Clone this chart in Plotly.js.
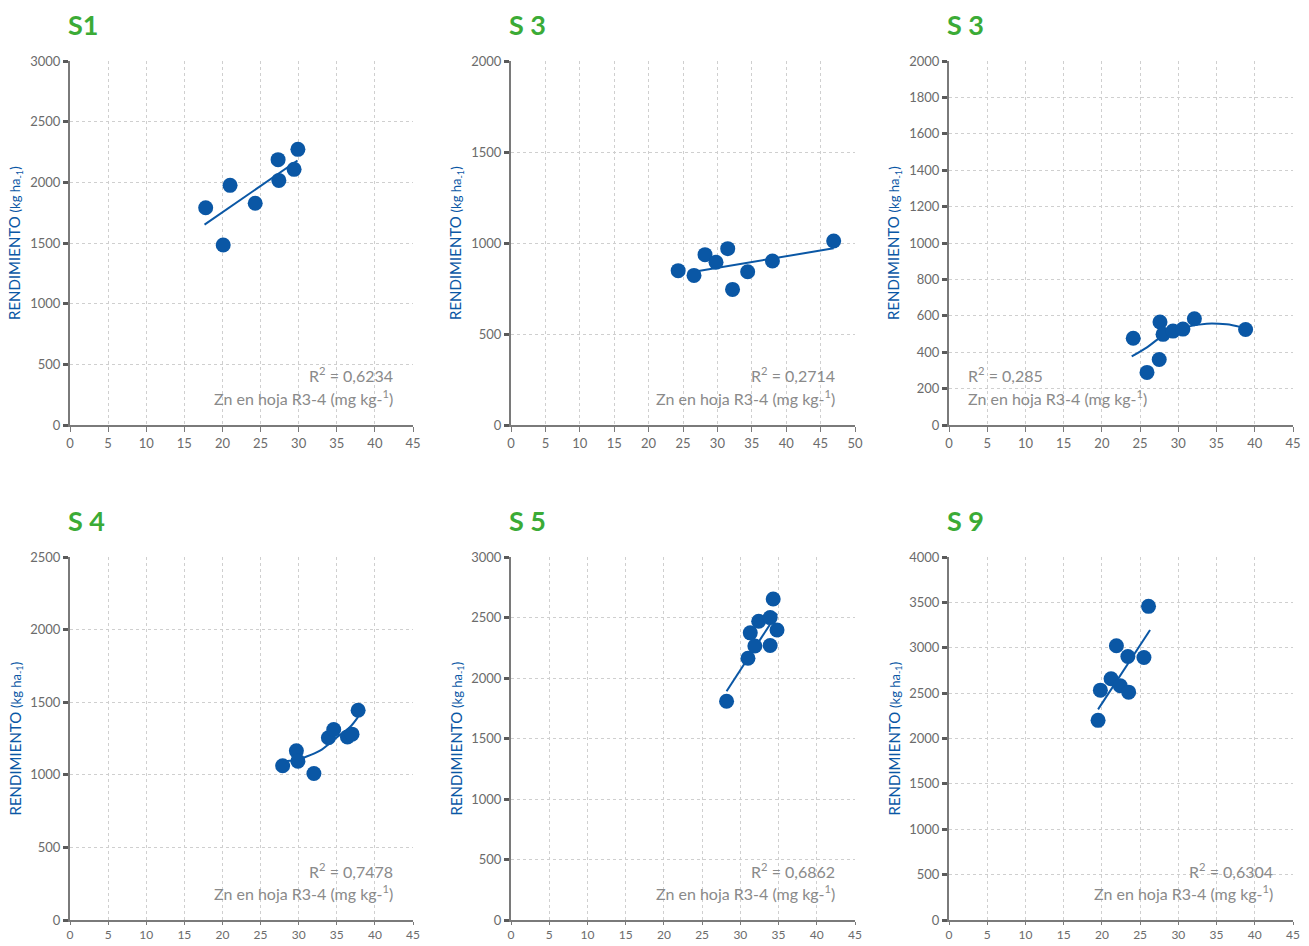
<!DOCTYPE html>
<html>
<head>
<meta charset="utf-8">
<script src="https://cdn.plot.ly/plotly-3.0.1.min.js"></script>
<style>html,body{margin:0;padding:0;background:#fff;}#chart{width:1309px;height:946px;}</style>
</head>
<body>
<div id="chart"></div>
<script>
// ---- Data ----
var panelTitles = ["S1", "S 3", "S 3", "S 4", "S 5", "S 9"];
var r2Labels = ["0,6234", "0,2714", "0,285", "0,7478", "0,6862", "0,6304"];

var s1_x = [17.8, 21.0, 20.1, 24.3, 27.3, 27.4, 29.4, 29.9];
var s1_y = [1790, 1975, 1484, 1827, 2187, 2016, 2107, 2272];
var s1_fit_x = [17.65, 29.85];
var s1_fit_y = [1651, 2180];

var s2_x = [24.3, 26.6, 28.2, 29.8, 31.5, 32.2, 34.4, 38.0, 46.9];
var s2_y = [848, 822, 936, 894, 969, 745, 842, 901, 1011];
var s2_fit_x = [26.6, 46.9];
var s2_fit_y = [842, 971];

var s3_x = [24.1, 27.6, 27.5, 25.9, 28.0, 29.3, 30.6, 32.1, 38.8];
var s3_y = [477, 566, 360, 289, 498, 516, 527, 584, 525];
var s3_fit_x = [23.9, 25.9, 28.0, 31.1, 33.7, 36.3, 38.1];
var s3_fit_y = [377, 427, 490, 539, 557, 553, 539];

var s4_x = [27.9, 29.7, 29.9, 32.0, 33.9, 34.6, 36.4, 37.0, 37.8];
var s4_y = [1062, 1165, 1094, 1009, 1255, 1312, 1261, 1280, 1445];
var s4_fit_x = [28.0, 29.5, 30.8, 32.8, 35.0, 36.7, 37.8];
var s4_fit_y = [1095, 1100, 1121, 1166, 1258, 1327, 1399];

var s5_x = [28.2, 31.0, 31.3, 31.9, 32.4, 33.9, 33.9, 34.3, 34.8];
var s5_y = [1808, 2163, 2373, 2265, 2469, 2499, 2268, 2653, 2397];
var s5_fit_x = [28.2, 34.8];
var s5_fit_y = [1891, 2532];

var s6_x = [19.5, 19.8, 21.2, 21.9, 22.4, 23.4, 23.5, 25.5, 26.1];
var s6_y = [2200, 2533, 2658, 3022, 2581, 2904, 2511, 2893, 3456];
var s6_fit_x = [19.5, 26.3];
var s6_fit_y = [2321, 3196];

var xMax = [45, 50, 45, 45, 45, 45];
var yMax = [3000, 2000, 2000, 2500, 3000, 4000];
var yStep = [500, 500, 200, 500, 500, 500];

// ---- Build figure ----
var W = 1309, H = 946;
var BLUE = "#0a57a5";
var GREEN = "#3bab36";
var GREY_TXT = "#6b6b6b";
var FONT = "Lato, 'Open Sans', sans-serif";

var pts = [[s1_x, s1_y, s1_fit_x, s1_fit_y], [s2_x, s2_y, s2_fit_x, s2_fit_y], [s3_x, s3_y, s3_fit_x, s3_fit_y],
           [s4_x, s4_y, s4_fit_x, s4_fit_y], [s5_x, s5_y, s5_fit_x, s5_fit_y], [s6_x, s6_y, s6_fit_x, s6_fit_y]];

// pixel boxes [left, right, top, bottom]
var boxes = [[70, 413, 61, 425], [511, 855, 61, 425], [949, 1293, 61, 425],
             [70, 413, 557, 920], [511, 855, 557, 920], [949, 1293, 557, 920]];

var data = [];
var layout = {
  width: W, height: H,
  margin: {l: 0, r: 0, t: 0, b: 0},
  paper_bgcolor: "#fff", plot_bgcolor: "#fff",
  showlegend: false,
  font: {family: FONT, color: GREY_TXT},
  annotations: []
};

for (var i = 0; i < 6; i++) {
  var n = i + 1;
  var xa = "x" + (n === 1 ? "" : n), ya = "y" + (n === 1 ? "" : n);
  var b = boxes[i];
  var bottomRow = i >= 3;
  data.push({x: pts[i][2], y: pts[i][3], xaxis: xa, yaxis: ya, type: "scatter", mode: "lines",
             line: {color: BLUE, width: 2, shape: "spline"}, hoverinfo: "skip"});
  data.push({x: pts[i][0], y: pts[i][1], xaxis: xa, yaxis: ya, type: "scatter", mode: "markers",
             marker: {color: BLUE, size: 15}, cliponaxis: false});
  var axX = {
    domain: [b[0] / W, b[1] / W], range: [0, xMax[i]], dtick: 5, tick0: 0,
    showgrid: true, gridcolor: "#cfcfcf", griddash: "dot", gridwidth: 1,
    zeroline: false, showline: true, linecolor: "#7a7a7a", linewidth: 2,
    ticks: "outside", ticklen: bottomRow ? 3 : 5, tickwidth: 1, tickcolor: "#7a7a7a",
    tickfont: {family: FONT, size: bottomRow ? 12 : 13, color: GREY_TXT}, anchor: ya, fixedrange: true
  };
  var axY = {
    domain: [1 - b[3] / H, 1 - b[2] / H], range: [0, yMax[i]], dtick: yStep[i], tick0: 0,
    showgrid: true, gridcolor: "#cfcfcf", griddash: "dot", gridwidth: 1,
    zeroline: false, showline: true, linecolor: "#7a7a7a", linewidth: 2,
    ticks: "outside", ticklen: 5, tickwidth: 3, tickcolor: "#5a5a5a",
    tickfont: {family: FONT, size: 13, color: GREY_TXT}, anchor: xa, fixedrange: true
  };
  layout["xaxis" + (n === 1 ? "" : n)] = axX;
  layout["yaxis" + (n === 1 ? "" : n)] = axY;

  // panel title
  var titleY = i < 3 ? 25 : 520;
  layout.annotations.push({
    xref: "paper", yref: "paper", x: (b[0] - 4) / W, y: 1 - titleY / H,
    xanchor: "left", yanchor: "middle", showarrow: false,
    text: "<b>" + panelTitles[i] + "</b>",
    font: {family: FONT, size: 27, color: GREEN}
  });
  // y-axis title
  layout.annotations.push({
    xref: "paper", yref: "paper", x: (b[0] - 55) / W, y: 1 - ((b[2] + b[3]) / 2) / H,
    xanchor: "center", yanchor: "middle", showarrow: false, textangle: -90,
    text: "RENDIMIENTO <span style='font-size:13px'>(kg ha<sub>-1</sub>)</span>",
    font: {family: FONT, size: 15, color: BLUE}
  });
  // R2 annotations
  var left = (i === 2);
  var ax = left ? (b[0] + 17) : (b[1] - 18);
  var yR = b[3] - 50, yZ = b[3] - 28;
  layout.annotations.push({
    xref: "paper", yref: "paper", x: ax / W, y: 1 - yR / H,
    xanchor: left ? "left" : "right", yanchor: "middle", showarrow: false,
    text: "R<sup>2</sup> = " + r2Labels[i],
    font: {family: FONT, size: 16, color: "#8a8a8a"}
  });
  layout.annotations.push({
    xref: "paper", yref: "paper", x: ax / W, y: 1 - yZ / H,
    xanchor: left ? "left" : "right", yanchor: "middle", showarrow: false,
    text: "Zn en hoja R3-4 (mg kg-<sup>1</sup>)",
    font: {family: FONT, size: 16, color: "#8a8a8a"}
  });
}

Plotly.newPlot("chart", data, layout, {displayModeBar: false, staticPlot: true});
</script>
</body>
</html>
